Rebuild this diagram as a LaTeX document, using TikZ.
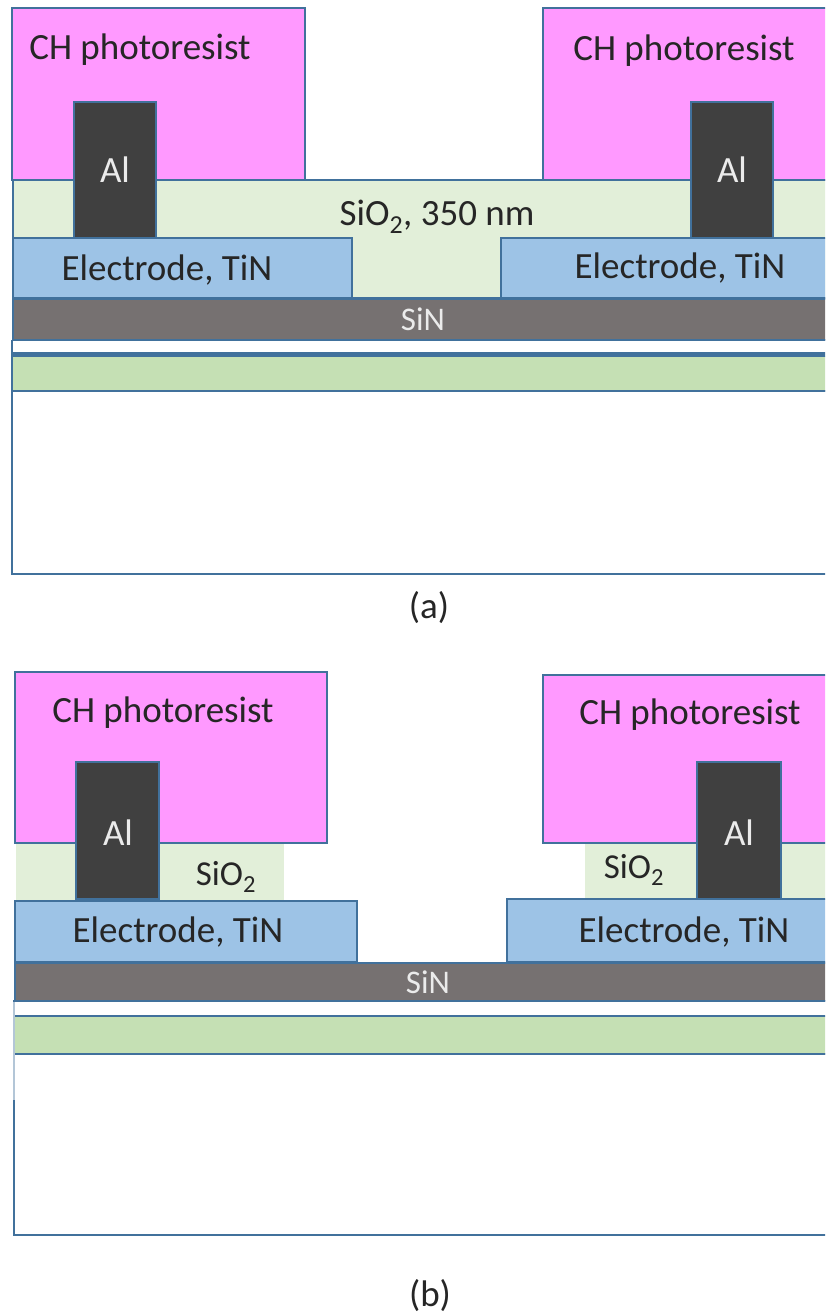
\documentclass[tikz,border=0pt]{standalone}
\usepackage{fontspec}
\setmainfont{Carlito}
\tikzset{
  layer/.style={draw= edgeblue, line width= 1.3pt},
  resist/.style={layer, fill= resistpink},
  metal/.style={layer, fill= metalgray},
  oxide/.style={fill= oxidegreen},
  electrode/.style={layer, fill= tinblue},
  nitride/.style={layer, fill= singray},
  silicon/.style={layer, fill= siliconwhite},
  buried/.style={layer, fill= buriedgreen},
  darktext/.style={text= black!85, font=\fontsize{37}{42}\selectfont, inner sep= 0pt},
  lighttext/.style={text= white!92!black, font=\fontsize{37}{42}\selectfont, inner sep= 0pt},
  sintext/.style={lighttext, font=\fontsize{33}{38}\selectfont},
  smalltext/.style={darktext, font=\fontsize{35}{40}\selectfont}
}
\definecolor{edgeblue}{HTML}{41719C}
\definecolor{resistpink}{HTML}{FF99FF}
\definecolor{metalgray}{HTML}{404040}
\definecolor{oxidegreen}{HTML}{E2EFD9}
\definecolor{tinblue}{HTML}{9DC3E6}
\definecolor{singray}{HTML}{767171}
\definecolor{siliconwhite}{HTML}{FFFFFF}
\definecolor{buriedgreen}{HTML}{C5E0B4}

\begin{document}
\begin{tikzpicture}[x= 1pt, y= -1pt]
      \useasboundingbox (0,0) rectangle (825,1314);
      \clip (0,0) rectangle (825,1314);
      % (a)
      \begin{scope}
        \draw[silicon] (12,391) rectangle (835,574);
        \draw[buried] (12,356) rectangle (835,391);
        \draw[layer, line width= 2.4pt] (12,353.5) -- (835,353.5);
        \draw[layer] (12,340) -- (12,391);
        \draw[layer, fill= oxidegreen] (13,180) rectangle (835,298);
        \draw[resist] (12,8) rectangle (305,180);
        \draw[resist] (543,8) rectangle (835,180);
        \draw[electrode] (13,238) rectangle (352,298);
        \draw[electrode] (501,238) rectangle (835,298);
        \draw[metal] (74,102) rectangle (156,238);
        \draw[metal] (691,102) rectangle (773,238);
        \draw[nitride] (13,299) rectangle (835,340);
        \draw[layer, line width= 2.4pt] (13,340) -- (835,340);
      \end{scope}
      \begin{scope}[every node/.style={darktext}]
        \node (resistAL) at (140,49.5) {CH photoresist};
        \node (resistAR) at (684,50.5) {CH photoresist};
        \node (oxideA) at (437,217) {SiO\textsubscript{2}, 350 nm};
        \node (tinAL) at (167,270) {Electrode, TiN};
        \node (tinAR) at (680,268) {Electrode, TiN};
        \node (labelA) at (429,608) {(a)};
      \end{scope}
      \begin{scope}[every node/.style={lighttext}]
        \node (alAL) at (115,170) {Al};
        \node (alAR) at (732,170) {Al};
        \node[sintext] (sinA) at (423,319) {SiN};
      \end{scope}
      % (b)
      \begin{scope}
        \draw[silicon] (14,1054) rectangle (835,1235);
        \draw[buried] (14,1016) rectangle (835,1054);
        \draw[layer, edgeblue!40] (14,1001) -- (14,1100);
        \fill[oxide] (16,843) rectangle (284,900);
        \fill[oxide] (585,843) rectangle (835,900);
        \draw[resist] (15,672) rectangle (327,843);
        \draw[resist] (543,675) rectangle (835,843);
        \draw[electrode] (15,901) rectangle (357,962);
        \draw[electrode] (507,899) rectangle (835,962);
        \draw[metal] (76,762) rectangle (159,899);
        \draw[metal] (697,762) rectangle (781,899);
        \draw[nitride] (15,963) rectangle (835,1001);
        \draw[layer, line width= 2pt] (13,1001) -- (835,1001);
      \end{scope}
      \begin{scope}[every node/.style={darktext}]
        \node (resistBL) at (163,713) {CH photoresist};
        \node (resistBR) at (690,715) {CH photoresist};
        \node[smalltext] (oxideBL) at (226,877) {SiO\textsubscript{2}};
        \node[smalltext] (oxideBR) at (634,870) {SiO\textsubscript{2}};
        \node (tinBL) at (178,932) {Electrode, TiN};
        \node (tinBR) at (684,932) {Electrode, TiN};
        \node (labelB) at (430,1296) {(b)};
      \end{scope}
      \begin{scope}[every node/.style={lighttext}]
        \node (alBL) at (118,833) {Al};
        \node (alBR) at (739,833) {Al};
        \node[sintext] (sinB) at (428,982) {SiN};
      \end{scope}
    \end{tikzpicture}
\end{document}
